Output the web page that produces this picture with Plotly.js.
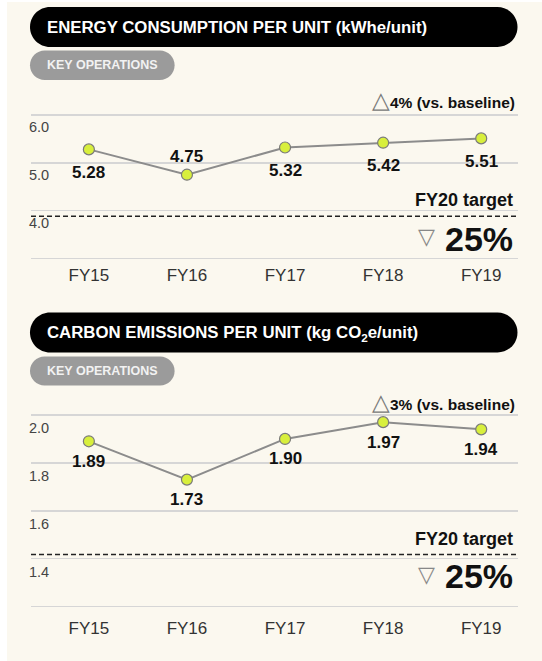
<!DOCTYPE html>
<html>
<head>
<meta charset="utf-8">
<script src="https://cdn.plot.ly/plotly-3.0.1.min.js"></script>
<style>html,body{margin:0;padding:0;background:#fff;}#chart{width:542px;height:661px;}</style>
</head>
<body>
<div id="chart"></div>
<script>
// ---- data ----
const years = ['FY15', 'FY16', 'FY17', 'FY18', 'FY19'];
const energy = [5.28, 4.75, 5.32, 5.42, 5.51];
const carbon = [1.89, 1.73, 1.90, 1.97, 1.94];
const energyTarget = 3.88;
const carbonTarget = 1.417;
const energyTickVals = [4, 5, 6];
const energyTickText = ['4.0', '5.0', '6.0'];
const energyBaseGrid = [3];
const carbonTickVals = [1.4, 1.6, 1.8, 2.0];
const carbonTickText = ['1.4', '1.6', '1.8', '2.0'];
const carbonBaseGrid = [1.2];
const energyLabelSide = ['below', 'above', 'below', 'below', 'below'];
const carbonLabelSide = ['below', 'below', 'below', 'below', 'below'];
const titles = ['ENERGY CONSUMPTION PER UNIT (kWhe/unit)', 'CARBON EMISSIONS PER UNIT (kg CO<sub>2</sub>e/unit)'];
const badge = 'KEY OPERATIONS';
const changeVsBaseline = ['4%', '3%'];
const targetLabel = 'FY20 target';
const targetReduction = ['25%', '25%'];

// ---- helpers ----
const W = 542, H = 661;
const FONT = 'Liberation Sans, Arial, Helvetica, sans-serif';
const px = x => x / W;
const py = y => 1 - y / H;
function pill(x0, y0, x1, y1, color) {
  const r = (y1 - y0) / 2, k = 0.5523 * r;
  const P = (x, y) => px(x).toFixed(5) + ',' + py(y).toFixed(5);
  const d = 'M' + P(x0 + r, y0) + ' L' + P(x1 - r, y0) +
    ' C' + P(x1 - r + k, y0) + ' ' + P(x1, y0 + r - k) + ' ' + P(x1, y0 + r) +
    ' C' + P(x1, y0 + r + k) + ' ' + P(x1 - r + k, y1) + ' ' + P(x1 - r, y1) +
    ' L' + P(x0 + r, y1) +
    ' C' + P(x0 + r - k, y1) + ' ' + P(x0, y1 - r + k) + ' ' + P(x0, y0 + r) +
    ' C' + P(x0, y0 + r - k) + ' ' + P(x0 + r - k, y0) + ' ' + P(x0 + r, y0) + ' Z';
  return {type: 'path', xref: 'paper', yref: 'paper', path: d, fillcolor: color, line: {width: 0}, layer: 'above'};
}
function txt(x, y, text, size, opts) {
  return Object.assign({
    xref: 'paper', yref: 'paper', x: px(x), y: py(y), text: text, showarrow: false,
    xanchor: 'left', yanchor: 'middle',
    font: {family: FONT, size: size, color: '#111'}
  }, opts || {});
}

const lineStyle = {color: '#8c8c8c', width: 2};
const markerStyle = {size: 11, color: '#d8ef3c', line: {color: '#7a7a7a', width: 1.2}};

const traces = [
  {x: years, y: energy, xaxis: 'x', yaxis: 'y', type: 'scatter', mode: 'lines+markers',
   line: lineStyle, marker: markerStyle, hoverinfo: 'skip', cliponaxis: false},
  {x: years, y: carbon, xaxis: 'x2', yaxis: 'y2', type: 'scatter', mode: 'lines+markers',
   line: lineStyle, marker: markerStyle, hoverinfo: 'skip', cliponaxis: false}
];

const xDomain = [px(31), px(517.5)];
const xRange = [-0.59, 4.37];
function xax(anchor, standoff) {
  return {domain: xDomain, range: xRange, type: 'category', anchor: anchor,
    showgrid: false, zeroline: false, showline: false, ticks: '', ticklabelstandoff: standoff,
    tickfont: {family: FONT, size: 17, color: '#333'}, automargin: false, fixedrange: true};
}
const GRID = '#d6d6d6';
function yax(domain, range, vals, text, baseGrid, shift) {
  return {domain: domain, range: range, tickmode: 'array', tickvals: vals, ticktext: text,
    showgrid: true, gridcolor: GRID, gridwidth: 1.5, zeroline: false, showline: false,
    minor: {tickmode: 'array', tickvals: baseGrid, showgrid: true, gridcolor: GRID, gridwidth: 1.5, ticks: ''},
    ticks: '', ticklabelposition: 'inside', ticklabelshift: shift, ticklabelstandoff: -5,
    tickfont: {family: FONT, size: 14.5, color: '#444'}, automargin: false, fixedrange: true};
}

const annotations = [];
function dataLabels(vals, sides, xr, yr, below) {
  vals.forEach((v, i) => {
    annotations.push({xref: xr, yref: yr, x: years[i], y: v, text: '<b>' + v.toFixed(2) + '</b>',
      showarrow: false, yshift: sides[i] === 'above' ? 18 : below,
      font: {family: FONT, size: 17, color: '#111'}});
  });
}
dataLabels(energy, energyLabelSide, 'x', 'y', -23);
dataLabels(carbon, carbonLabelSide, 'x2', 'y2', -20);

// panel texts
const titleY = [27.5, 333], badgeY = [65.5, 371], changeY = [99.5, 401.5];
[0, 1].forEach(i => {
  annotations.push(txt(45, titleY[i], '<b>' + titles[i] + '</b>', 16.8, {font: {family: FONT, size: 16.8, color: '#ffffff'}}));
  annotations.push(txt(45, badgeY[i], '<b>' + badge + '</b>', 12.5, {font: {family: FONT, size: 12.5, color: '#f2f2f2'}}));
  annotations.push(txt(517, changeY[i], '<span style="font-size:23px;color:#777">△</span><b>' + changeVsBaseline[i] + ' (vs. baseline)</b>', 15.5, {xanchor: 'right'}));
});
annotations.push(txt(515, 199.5, '<b>' + targetLabel + '</b>', 18, {xanchor: 'right'}));
annotations.push(txt(515, 538.5, '<b>' + targetLabel + '</b>', 18, {xanchor: 'right'}));
annotations.push(txt(515, 239, '<b>' + targetReduction[0] + '</b>', 34, {xanchor: 'right'}));
annotations.push(txt(515, 576, '<b>' + targetReduction[1] + '</b>', 34, {xanchor: 'right'}));
annotations.push(txt(426, 237, '▽', 22, {xanchor: 'center', font: {family: 'DejaVu Sans', size: 22, color: '#888'}}));
annotations.push(txt(426, 574, '▽', 22, {xanchor: 'center', font: {family: 'DejaVu Sans', size: 22, color: '#888'}}));

const shapes = [
  {type: 'rect', xref: 'paper', yref: 'paper', x0: px(7), x1: 1, y0: 0, y1: py(2), fillcolor: '#fbf8ef', line: {width: 0}, layer: 'below'},
  pill(30, 7, 517.5, 47, '#000000'),
  pill(30, 50.5, 174.6, 80, '#9b9b9b'),
  pill(30, 312.5, 517.5, 352.5, '#000000'),
  pill(30, 356.5, 174.6, 385.5, '#9b9b9b'),
  {type: 'line', xref: 'x domain', yref: 'y', x0: 0, x1: 1, y0: energyTarget, y1: energyTarget,
   line: {color: '#222', width: 1.4, dash: '5px,3px'}},
  {type: 'line', xref: 'x2 domain', yref: 'y2', x0: 0, x1: 1, y0: carbonTarget, y1: carbonTarget,
   line: {color: '#222', width: 1.4, dash: '5px,3px'}}
];

// top plot: 6.0 at y=115px, 3.0 at 258.3px, padded by 0.2 units each side
// bottom plot: 2.0 at 415px, 1.2 at 606.5px, padded by 0.04 units each side
const layout = {
  width: W, height: H, margin: {l: 0, r: 0, t: 0, b: 0},
  paper_bgcolor: '#ffffff', plot_bgcolor: 'rgba(0,0,0,0)', showlegend: false,
  xaxis: xax('y', -5),
  yaxis: yax([py(267.85), py(105.45)], [2.8, 6.2], energyTickVals, energyTickText, energyBaseGrid, 12),
  xaxis2: xax('y2', 0),
  yaxis2: yax([py(616.1), py(405.4)], [1.16, 2.04], carbonTickVals, carbonTickText, carbonBaseGrid, 13),
  shapes: shapes, annotations: annotations,
  font: {family: FONT}
};

Plotly.newPlot('chart', traces, layout, {displayModeBar: false, staticPlot: true});
</script>
</body>
</html>
